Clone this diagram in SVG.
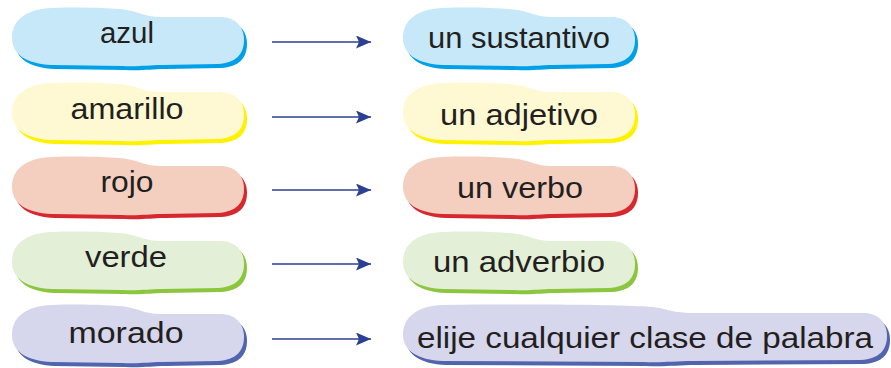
<svg xmlns="http://www.w3.org/2000/svg" xmlns:xlink="http://www.w3.org/1999/xlink" width="891" height="368" viewBox="0 0 891 368">
<style>
.t{font-family:"Liberation Sans",Arial,sans-serif;font-size:30px;fill:#231f20;text-anchor:middle}
.conn line{stroke:#2b3f93;stroke-width:1.6}
.az .f{fill:#c6e8f8}.az .s{fill:#00a0e9}
.am .f{fill:#fff9d3}.am .s{fill:#fff200}
.ro .f{fill:#f4cfc0}.ro .s{fill:#d7282f}
.ve .f{fill:#e3efd6}.ve .s{fill:#8cc63f}
.mo .f{fill:#d6d6ec}.mo .s{fill:#5264ae}
</style>
<defs>
<path id="blob" d="M 0 30 C 0 12, 14 1, 40 0 C 70 -1, 100 0, 115 2 C 128 4, 132 9, 150 9 L 208 9 C 224 9, 232 19, 232 32 C 232 46, 224 55, 206 56 L 150 57 C 135 57, 128 59, 110 58 L 40 57 C 14 56, 0 46, 0 30 Z"/>
<path id="wide" d="M 0 30 C 0 12, 14 1, 40 0 C 150 -1, 220 0, 250 2 C 265 4, 270 8, 290 8 L 460 8 C 476 8, 484 18, 484 31 C 484 45, 476 54, 458 55 L 290 56 C 270 56, 260 58, 240 57 L 40 56 C 14 55, 0 45, 0 30 Z"/>
<marker id="ah" markerWidth="16" markerHeight="14" refX="15" refY="6.5" orient="auto" markerUnits="userSpaceOnUse">
<path d="M0 0 L15 6.5 L0 13 L3 6.5 Z" fill="#2b3f93"/>
</marker>
</defs>

<g id="azul" class="az" transform="translate(12,8)">
<use class="s" href="#blob" x="3" y="4"/><use class="f" href="#blob"/>
<text class="t" x="115" y="35" textLength="54" lengthAdjust="spacingAndGlyphs">azul</text>
</g>
<g id="amarillo" class="am" transform="translate(12,83)">
<use class="s" href="#blob" x="3" y="4"/><use class="f" href="#blob"/>
<text class="t" x="115" y="36" textLength="113" lengthAdjust="spacingAndGlyphs">amarillo</text>
</g>
<g id="rojo" class="ro" transform="translate(12,157)">
<use class="s" href="#blob" x="3" y="4"/><use class="f" href="#blob"/>
<text class="t" x="115" y="35" textLength="53" lengthAdjust="spacingAndGlyphs">rojo</text>
</g>
<g id="verde" class="ve" transform="translate(12,232)">
<use class="s" href="#blob" x="3" y="4"/><use class="f" href="#blob"/>
<text class="t" x="114" y="35" textLength="82" lengthAdjust="spacingAndGlyphs">verde</text>
</g>
<g id="morado" class="mo" transform="translate(12,305)">
<use class="s" href="#blob" x="3" y="4"/><use class="f" href="#blob"/>
<text class="t" x="114" y="38" textLength="115" lengthAdjust="spacingAndGlyphs">morado</text>
</g>

<g id="sustantivo" class="az" transform="translate(403,8)">
<use class="s" href="#blob" x="3" y="4"/><use class="f" href="#blob"/>
<text class="t" x="116" y="40" textLength="182" lengthAdjust="spacingAndGlyphs">un sustantivo</text>
</g>
<g id="adjetivo" class="am" transform="translate(403,83)">
<use class="s" href="#blob" x="3" y="4"/><use class="f" href="#blob"/>
<text class="t" x="116" y="42" textLength="158" lengthAdjust="spacingAndGlyphs">un adjetivo</text>
</g>
<g id="verbo" class="ro" transform="translate(403,157)">
<use class="s" href="#blob" x="3" y="4"/><use class="f" href="#blob"/>
<text class="t" x="117" y="41" textLength="126" lengthAdjust="spacingAndGlyphs">un verbo</text>
</g>
<g id="adverbio" class="ve" transform="translate(403,232)">
<use class="s" href="#blob" x="3" y="4"/><use class="f" href="#blob"/>
<text class="t" x="116" y="40" textLength="172" lengthAdjust="spacingAndGlyphs">un adverbio</text>
</g>
<g id="cualquier" class="mo" transform="translate(403,305)">
<use class="s" href="#wide" x="3" y="4"/><use class="f" href="#wide"/>
<text class="t" x="242" y="43" textLength="456" lengthAdjust="spacingAndGlyphs">elije cualquier clase de palabra</text>
</g>

<g id="connectors" class="conn">
<line x1="272" y1="42" x2="371" y2="42" marker-end="url(#ah)"/>
<line x1="272" y1="117" x2="371" y2="117" marker-end="url(#ah)"/>
<line x1="272" y1="190" x2="371" y2="190" marker-end="url(#ah)"/>
<line x1="272" y1="264" x2="371" y2="264" marker-end="url(#ah)"/>
<line x1="272" y1="339" x2="371" y2="339" marker-end="url(#ah)"/>
</g>
</svg>
